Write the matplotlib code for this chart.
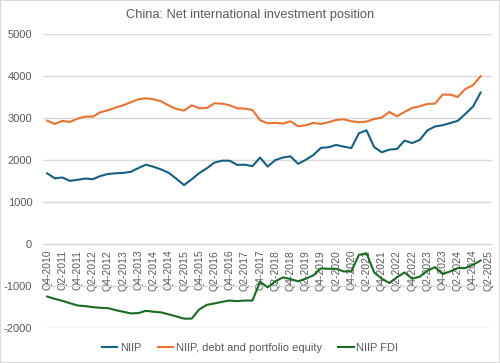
import matplotlib
matplotlib.use("Agg")
import matplotlib.pyplot as plt
import numpy as np
from matplotlib.patches import Rectangle

plt.rcParams['font.family'] = ['Liberation Sans', 'DejaVu Sans']
plt.rcParams['axes.unicode_minus'] = False

# Quarters Q4-2010 .. Q2-2025
quarters = ['Q4-2010'] + ['Q%d-%d' % (q, y) for y in range(2011, 2026) for q in (1, 2, 3, 4)]
quarters = quarters[:59]

# NIIP, USD bn, last quarter empty
niip = [1690, 1570, 1590, 1510, 1535, 1565, 1550, 1625, 1675, 1690,
        1700, 1725, 1815, 1895, 1845, 1780, 1700, 1560, 1410, 1545,
        1695, 1810, 1945, 1990, 1990, 1890, 1895, 1860, 2065, 1850,
        2005, 2065, 2095, 1915, 2010, 2125, 2295, 2310, 2365, 2325,
        2290, 2643, 2714, 2315, 2190, 2254, 2270, 2468, 2410, 2485,
        2710, 2805, 2835, 2885, 2940, 3105, 3278, 3611]

niip_debt_equity = [2944, 2865, 2937, 2913, 2992, 3040, 3040, 3143, 3190, 3254,
                    3310, 3381, 3452, 3476, 3452, 3405, 3302, 3222, 3183, 3310,
                    3238, 3246, 3357, 3349, 3310, 3238, 3230, 3198, 2952, 2881,
                    2893, 2873, 2929, 2810, 2833, 2889, 2865, 2905, 2960, 2976,
                    2929, 2905, 2921, 2984, 3016, 3151, 3048, 3151, 3246, 3286,
                    3341, 3349, 3563, 3563, 3508, 3698, 3786, 4000]

niip_fdi = [-1244, -1299, -1346, -1402, -1457, -1472, -1496, -1512, -1520, -1567,
            -1606, -1646, -1638, -1583, -1606, -1622, -1669, -1717, -1770, -1770,
            -1551, -1441, -1409, -1370, -1339, -1354, -1339, -1339, -890, -1024,
            -882, -787, -827, -882, -819, -740, -575, -583, -583, -646,
            -646, -252, -213, -669, -819, -921, -787, -669, -819, -772,
            -630, -543, -709, -646, -567, -567, -488, -386]

series = [('NIIP', niip, '#156082'),
          ('NIIP, debt and portfolio equity', niip_debt_equity, '#E97132'),
          ('NIIP FDI', niip_fdi, '#196B24')]

grey = '#595959'
grid = '#d9d9d9'

fig = plt.figure(figsize=(5, 3.63), dpi=100)
ax = fig.add_axes([0.0867, 0.0956, 0.8973, 0.81])

x = np.arange(len(quarters))
for name, vals, col in series:
    y = np.full(len(quarters), np.nan)
    y[:len(vals)] = vals
    ax.plot(x, y, color=col, lw=1.5, label=name, solid_joinstyle='round')

ax.set_xlim(-0.5, len(quarters) - 0.5)
ax.set_ylim(-2000, 5000)
ax.set_yticks(range(-2000, 5001, 1000))
ax.yaxis.grid(True, color=grid, lw=1)
ax.set_axisbelow(True)

for s in ['top', 'right', 'left']:
    ax.spines[s].set_visible(False)
ax.spines['bottom'].set_position(('data', 0))
ax.spines['bottom'].set_color(grid)

ax.set_xticks(x[::2])
ax.set_xticklabels(quarters[::2], rotation=90, va='top')
ax.tick_params(axis='x', length=0, pad=4, labelsize=7.5, labelcolor=grey)
ax.tick_params(axis='y', length=0, pad=8, labelsize=8, labelcolor=grey)

fig.text(0.5, 1 - 15 / 363, 'China: Net international investment position',
         ha='center', va='center', fontsize=9.3, color=grey)

fig.legend(loc='center', bbox_to_anchor=(0.5, 15 / 363), ncol=3, frameon=False,
           fontsize=8, labelcolor=grey, handlelength=1.4, handletextpad=0.2,
           columnspacing=1.5)

fig.patches.append(Rectangle((0, 0), 1, 1, transform=fig.transFigure, fill=False,
                             edgecolor=grid, lw=1.5))

fig.savefig('out.png', dpi=100)
